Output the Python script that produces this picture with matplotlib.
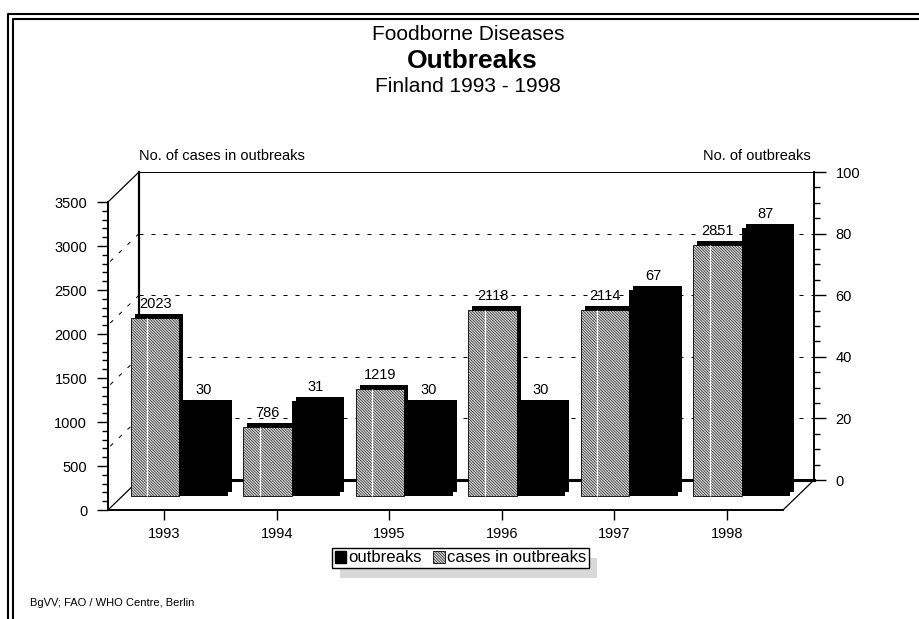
import matplotlib
matplotlib.use('Agg')
import numpy as np
import matplotlib.pyplot as plt
import matplotlib.transforms as mtransforms
from matplotlib.lines import Line2D
from matplotlib.patches import Patch, Rectangle
from matplotlib.ticker import MultipleLocator


years = ['1993', '1994', '1995', '1996', '1997', '1998']
cases = [2023, 786, 1219, 2118, 2114, 2851]
outbreaks = [30, 31, 30, 30, 67, 87]

cases_ticks = [0, 500, 1000, 1500, 2000, 2500, 3000, 3500]
outbreak_ticks = [0, 20, 40, 60, 80, 100]

W, H, DPI = 919, 619, 100
# size of the front / back plane and depth of the fake 3d box, in pixels
PW, PH = 675, 308
DX, DY = 31, 30

HATCH = '\\' * 12
CASE_FACE = '#d6d6d6'

plt.rcParams['font.family'] = ['Liberation Sans', 'DejaVu Sans']
plt.rcParams['hatch.linewidth'] = 0.4


def box(left, top, width, height):
    return [left / W, 1 - (top + height) / H, width / W, height / H]


def fig_line(xs, ys, **kw):
    # line in pixel coords (origin top left)
    fig.add_artist(Line2D([x / W for x in xs], [1 - y / H for y in ys],
                          transform=fig.transFigure, clip_on=False, **kw))


fig = plt.figure(figsize=(W / DPI, H / DPI), dpi=DPI)

# back wall with right axis (outbreaks)
ax_back = fig.add_axes(box(139, 172, PW, PH))
ax_back.set_xlim(-0.5, len(years) - 0.5)
ax_back.set_ylim(0, 100)
ax_back.set_xticks([])
ax_back.yaxis.tick_right()
ax_back.set_yticks(outbreak_ticks)
ax_back.yaxis.set_minor_locator(MultipleLocator(5))
ax_back.tick_params(axis='y', which='major', length=8.5, width=1, pad=7, labelsize=10.5)
ax_back.tick_params(axis='y', which='minor', length=4.5, width=1)
ax_back.spines['left'].set_linewidth(1.6)
ax_back.spines['bottom'].set_linewidth(2.2)
ax_back.spines['top'].set_linewidth(0.7)
ax_back.spines['right'].set_linewidth(1.4)
ax_back.hlines(outbreak_ticks[1:-1], -0.5, len(years) - 0.5, colors='black',
               linewidth=0.72, linestyles=(0, (4, 8)))
ax_back.text(0, 1.03, 'No. of cases in outbreaks', transform=ax_back.transAxes,
             ha='left', va='bottom', fontsize=10.5)
ax_back.text(0.995, 1.03, 'No. of outbreaks', transform=ax_back.transAxes,
             ha='right', va='bottom', fontsize=10.5)

# front plane with left axis (cases) and the floor
ax_front = fig.add_axes(box(108, 202, PW, PH))
ax_front.patch.set_visible(False)
ax_front.set_xlim(-0.5, len(years) - 0.5)
ax_front.set_ylim(0, 3500)
ax_front.set_yticks(cases_ticks)
ax_front.yaxis.set_minor_locator(MultipleLocator(100))
x = np.arange(len(years))
ax_front.set_xticks(x)
ax_front.set_xticklabels(years)
ax_front.tick_params(axis='y', which='major', length=8, width=1, pad=7, labelsize=10.5)
ax_front.tick_params(axis='y', which='minor', length=4.5, width=1)
ax_front.tick_params(axis='x', length=7.5, width=1, pad=5, labelsize=10.5)
ax_front.spines['top'].set_visible(False)
ax_front.spines['right'].set_visible(False)
ax_front.spines['left'].set_linewidth(1.4)
ax_front.spines['bottom'].set_linewidth(1.4)

ax_out = ax_front.twinx()
ax_out.set_ylim(0, 100)
ax_out.axis('off')

# bars sit in the middle of the box, with a small black top / side face
off_bar = mtransforms.ScaledTranslation(15 / DPI, 14 / DPI, fig.dpi_scale_trans)
off_side = mtransforms.ScaledTranslation(19 / DPI, 18 / DPI, fig.dpi_scale_trans)
bw = 0.43

ax_front.bar(x - bw / 2, cases, bw, color='black', linewidth=0,
             transform=ax_front.transData + off_side, clip_on=False)
ax_front.bar(x - bw / 2, cases, bw, facecolor=CASE_FACE, edgecolor='black',
             linewidth=0.6, hatch=HATCH,
             transform=ax_front.transData + off_bar, clip_on=False)
# thin white streak inside the hatched bars
ax_front.vlines(x - bw + bw / 3, 0, cases, colors='white', linewidth=0.9,
                transform=ax_front.transData + off_bar, clip_on=False)
ax_out.bar(x + bw / 2, outbreaks, bw, color='black', linewidth=0,
           transform=ax_out.transData + off_side, clip_on=False)
ax_out.bar(x + bw / 2, outbreaks, bw, color='black', linewidth=0.6,
           transform=ax_out.transData + off_bar, clip_on=False)

for xi, v in zip(x, cases):
    ax_front.annotate(f'{v}', (xi - bw / 2, v), xycoords=ax_front.transData + off_bar,
                      xytext=(0, 5), textcoords='offset points',
                      ha='center', va='bottom', fontsize=10.5)
for xi, v in zip(x, outbreaks):
    ax_out.annotate(f'{v}', (xi + bw / 2, v), xycoords=ax_out.transData + off_bar,
                    xytext=(0, 5), textcoords='offset points',
                    ha='center', va='bottom', fontsize=10.5)

# edges of the box: left wall and floor corners
fx0, fy_top, fy_bot = 108, 202, 510
fig_line([fx0, fx0 + DX], [fy_top, fy_top - DY], color='black', lw=0.9, zorder=-1)
fig_line([fx0, fx0 + DX], [fy_bot, fy_bot - DY], color='black', lw=0.9, zorder=-1)
fig_line([fx0 + PW, fx0 + PW + DX], [fy_bot, fy_bot - DY], color='black', lw=0.9, zorder=-1)
# grid lines running over the left wall
for t in outbreak_ticks[1:-1]:
    yb = fy_bot - DY - t / 100 * PH
    fig_line([fx0 + DX, fx0], [yb, yb + DY], color='black', lw=0.72,
             linestyle=(0, (4, 8)), zorder=-1)

# double frame around the chart
for off in (7.5, 12.5):
    fig_line([off, off, W + 10], [H + 10, off + 6, off + 6], color='black', lw=1.5)

fig.text(468 / W, 1 - 35 / H, 'Foodborne Diseases', ha='center', va='center', fontsize=15)
fig.text(472 / W, 1 - 61 / H, 'Outbreaks', ha='center', va='center', fontsize=19,
         fontweight='bold')
fig.text(468 / W, 1 - 87 / H, 'Finland 1993 - 1998', ha='center', va='center', fontsize=15)
fig.text(30 / W, 1 - 603 / H, 'BgVV; FAO / WHO Centre, Berlin', ha='left', va='center',
         fontsize=8)

handles = [Patch(facecolor='black', edgecolor='black', label='outbreaks'),
           Patch(facecolor=CASE_FACE, edgecolor='black', linewidth=0.6, hatch=HATCH,
                 label='cases in outbreaks')]
leg = fig.legend(handles=handles, loc='center', bbox_to_anchor=(460.5 / W, 1 - 558 / H),
                 ncol=2, frameon=True, fancybox=False, edgecolor='black', framealpha=1,
                 fontsize=12, handlelength=0.7, handleheight=0.7, handletextpad=0.12,
                 columnspacing=0.7, borderpad=0.15, borderaxespad=0)
leg.get_frame().set_linewidth(1)

# grey drop shadow behind the legend
fig.canvas.draw()
bb = leg.get_window_extent()
fig.add_artist(Rectangle((bb.x0 + 8, bb.y0 - 10), bb.width, bb.height,
                         transform=mtransforms.IdentityTransform(),
                         facecolor='#d9d9d9', edgecolor='none', zorder=-2))

fig.savefig('out.png', dpi=DPI)
